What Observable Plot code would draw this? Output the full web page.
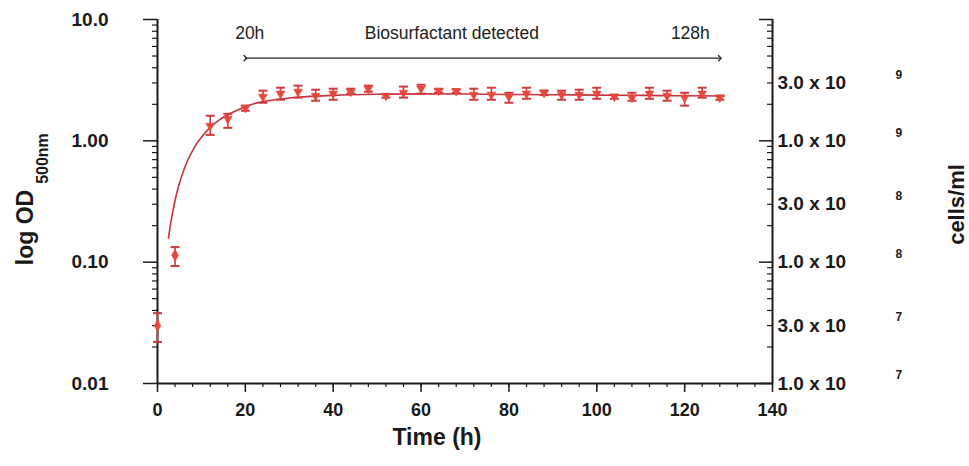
<!DOCTYPE html>
<html><head><meta charset="utf-8">
<script src="https://cdn.jsdelivr.net/npm/d3@7"></script>
<script src="https://cdn.jsdelivr.net/npm/@observablehq/plot@0.6"></script>
<style>body{margin:0;background:#fff} svg{display:block}</style>
</head><body><div id="chart"></div>
<script>
// Measured series (time in h, OD500)
const times  = [0, 4, 12, 16, 20, 24, 28, 32, 36, 40, 44, 48, 52, 56, 60, 64, 68, 72, 76, 80, 84, 88, 92, 96, 100, 104, 108, 112, 116, 120, 124, 128];
const od     = [0.030, 0.114, 1.33, 1.52, 1.87, 2.31, 2.45, 2.54, 2.35, 2.45, 2.54, 2.69, 2.35, 2.49, 2.69, 2.59, 2.57, 2.40, 2.40, 2.31, 2.45, 2.49, 2.40, 2.40, 2.45, 2.31, 2.27, 2.45, 2.35, 2.27, 2.45, 2.27];
const errLow = [0.022, 0.093, 1.12, 1.28, 1.77, 2.06, 2.18, 2.27, 2.14, 2.18, 2.45, 2.54, 2.27, 2.27, 2.45, 2.50, 2.48, 2.18, 2.18, 2.06, 2.22, 2.38, 2.18, 2.18, 2.22, 2.22, 2.14, 2.22, 2.14, 1.95, 2.27, 2.18];
const errHigh= [0.038, 0.133, 1.61, 1.67, 1.95, 2.59, 2.74, 2.85, 2.64, 2.69, 2.69, 2.85, 2.43, 2.80, 2.90, 2.68, 2.66, 2.69, 2.74, 2.49, 2.74, 2.60, 2.59, 2.64, 2.74, 2.40, 2.49, 2.74, 2.59, 2.49, 2.74, 2.36];

// Fitted growth curve
const fitTime = [2.5, 3.0, 3.5, 4, 5, 6, 7, 8, 9, 10, 12, 14, 16, 18, 20, 23, 27, 32, 40, 50, 60, 70, 80, 90, 100, 110, 120, 129];
const fitOD   = [0.158, 0.209, 0.263, 0.324, 0.447, 0.575, 0.708, 0.832, 0.955, 1.07, 1.29, 1.48, 1.64, 1.78, 1.91, 2.07, 2.19, 2.29, 2.37, 2.42, 2.44, 2.43, 2.41, 2.40, 2.38, 2.37, 2.35, 2.34];

// Axes
const xTicks = [0, 20, 40, 60, 80, 100, 120, 140];
const xMinor = d3.range(0, 141, 4);
const leftTicks = [0.01, 0.1, 1, 10];
const leftTickLabels = ["0.01", "0.10", "1.00", "10.0"];
const minorY = [0.01, 0.1, 1].flatMap(b => d3.range(2, 10).map(k => b * k));
const cellTicks = [1e7, 3e7, 1e8, 3e8, 1e9, 3e9];
const cellLabels = ["1.0 x 10", "3.0 x 10", "1.0 x 10", "3.0 x 10", "1.0 x 10", "3.0 x 10"];
const cellExponents = ["7", "7", "8", "8", "9", "9"];
const cellsPerOD = 1e9;

// Annotation
const annotT = [21, 67, 121.3];
const annotText = ["20h", "Biosurfactant detected", "128h"];
const annotOD = 7.66;
const arrowStart = 20, arrowEnd = 128, arrowOD = 4.8;

const points = times.map((t, i) => ({t, od: od[i], lo: errLow[i], hi: errHigh[i]}));
const fit = fitTime.map((t, i) => ({t, od: fitOD[i]}));
const annots = annotT.map((t, i) => ({t, od: annotOD, text: annotText[i]}));
const cellY = cellTicks.map(v => v / cellsPerOD);
const cellLabelOf = d => cellLabels[cellY.findIndex(v => Math.abs(v - d) < 1e-12)];
const cellExpOf = d => cellExponents[cellY.findIndex(v => Math.abs(v - d) < 1e-12)];

const cap = {draw(ctx, size) { const r = Math.sqrt(size / Math.PI); ctx.moveTo(-r, 0); ctx.lineTo(r, 0); }};
const red = "#e8473b", errRed = "#d03a3f", lineRed = "#c63340";
const bold = {fontWeight: "bold", fill: "#1a1a1a"};

const chart = Plot.plot({
  width: 969, height: 466,
  marginLeft: 157, marginRight: 197, marginTop: 19, marginBottom: 83,
  x: {domain: [0, 140]},
  y: {type: "log", domain: [0.01, 10]},
  style: {fontFamily: "'Liberation Sans', Arial, sans-serif", background: "#fff", color: "#1a1a1a"},
  marks: [
    Plot.axisX({ticks: xTicks, tickSize: 9, tickPadding: 11, tickFormat: d => String(d), fontSize: 18, ...bold, strokeWidth: 1.5, label: null}),
    Plot.axisX({ticks: xMinor, tickSize: 4, tickFormat: () => "", strokeWidth: 1.2, label: null}),
    Plot.axisY({ticks: leftTicks, tickSize: 14, tickPadding: 35, tickFormat: d => leftTickLabels[leftTicks.indexOf(d)], fontSize: 19, ...bold, strokeWidth: 1.5, label: null}),
    Plot.axisY({ticks: minorY, tickSize: 5, tickFormat: () => "", strokeWidth: 1.2, label: null}),
    Plot.axisY({anchor: "right", ticks: leftTicks, tickSize: -14, tickPadding: 14, tickFormat: () => "", strokeWidth: 1.5, label: null}),
    Plot.axisY({anchor: "right", ticks: minorY, tickSize: -6, tickPadding: 6, tickFormat: () => "", strokeWidth: 1.2, label: null}),
    Plot.axisY({anchor: "right", ticks: cellY, tickSize: 0, tickPadding: 5, tickFormat: cellLabelOf, fontSize: 19, ...bold, label: null}),
    Plot.axisY({anchor: "right", ticks: cellY, tickSize: 0, tickPadding: 123, dy: -8, tickFormat: cellExpOf, fontSize: 12, ...bold, label: null}),
    Plot.ruleX([0], {stroke: "#1a1a1a", strokeWidth: 2}),
    Plot.ruleX([140], {stroke: "#1a1a1a", strokeWidth: 2}),
    Plot.ruleY([0.01], {stroke: "#1a1a1a", strokeWidth: 2}),
    // titles
    Plot.text(["log OD"], {frameAnchor: "left", textAnchor: "middle", dx: -132, dy: 26, rotate: -90, fontSize: 23, ...bold}),
    Plot.text(["500nm"], {frameAnchor: "left", textAnchor: "middle", dx: -115, dy: -43, rotate: -90, fontSize: 16, ...bold}),
    Plot.text(["cells/ml"], {frameAnchor: "right", textAnchor: "middle", dx: 184, dy: 3, rotate: -90, fontSize: 22, ...bold}),
    Plot.text(["Time (h)"], {frameAnchor: "bottom", textAnchor: "middle", dx: -28, dy: 61, fontSize: 23, ...bold}),
    // fitted curve
    Plot.line(fit, {x: "t", y: "od", stroke: lineRed, strokeWidth: 1.6, curve: "monotone-x"}),
    // error bars
    Plot.ruleX(points, {x: "t", y1: "lo", y2: "hi", stroke: errRed, strokeWidth: 1.6}),
    Plot.dot(points, {x: "t", y: "lo", symbol: cap, r: 4.5, stroke: errRed, strokeWidth: 2, fill: "none"}),
    Plot.dot(points, {x: "t", y: "hi", symbol: cap, r: 4.5, stroke: errRed, strokeWidth: 2, fill: "none"}),
    // markers
    Plot.dot(points.filter(d => d.t < 8), {x: "t", y: "od", symbol: "diamond", r: 3.6, fill: red, stroke: red, strokeWidth: 0.5}),
    Plot.dot(points.filter(d => d.t >= 8), {x: "t", y: "od", symbol: "triangle", rotate: 180, r: 3.3, fill: red, stroke: red, strokeWidth: 0.5}),
    // annotation
    Plot.link([{x1: arrowStart, x2: arrowEnd, y: arrowOD}], {x1: "x1", x2: "x2", y1: "y", y2: "y", stroke: "#222", strokeWidth: 1.3, markerStart: "arrow", markerEnd: "arrow"}),
    Plot.text(annots, {x: "t", y: "od", text: "text", fontSize: 17.5, fill: "#222"})
  ]
});
document.getElementById("chart").appendChild(chart);
</script></body></html>
